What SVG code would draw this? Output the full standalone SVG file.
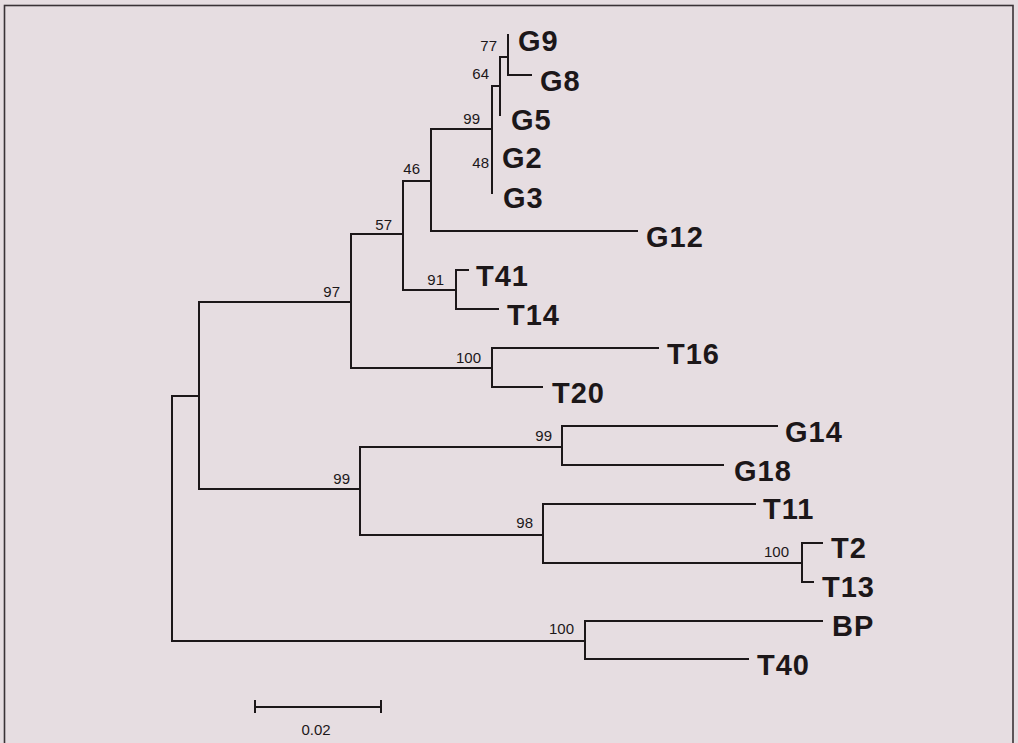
<svg xmlns="http://www.w3.org/2000/svg" width="1018" height="743" viewBox="0 0 1018 743">
<style>
.br{fill:none;stroke:#1c1719;stroke-width:2;stroke-linecap:square;stroke-linejoin:miter}
.leaf{font-family:"Liberation Sans",Arial,sans-serif;font-weight:bold;font-size:29px;letter-spacing:1px;fill:#1c1719}
.bs{font-family:"Liberation Sans",Arial,sans-serif;font-size:15px;fill:#1c1719;text-anchor:end}
.sc{font-family:"Liberation Sans",Arial,sans-serif;font-size:15px;fill:#1c1719;text-anchor:middle}
</style>
<rect x="0" y="0" width="1018" height="743" fill="#e6dde1"/>
<rect x="4.5" y="5.5" width="1008.5" height="760" fill="none" stroke="#3a3236" stroke-width="1.6"/>
<g id="connectors">
<path class="br" d="M199 396 H172 V641 H585"/>
<path class="br" d="M351 302 H199 V489 H360"/>
<path class="br" d="M403 234 H351 V368 H492"/>
<path class="br" d="M431 181 H403 V290 H456"/>
<path class="br" d="M492 129 H431 V231 H637"/>
<path class="br" d="M500 86 H492 V193"/>
<path class="br" d="M508 57 H500 V115"/>
<path class="br" d="M508 35 V75 H531"/>
<path class="br" d="M468 270 H456 V309 H498"/>
<path class="br" d="M658 348 H492 V387 H542"/>
<path class="br" d="M562 447 H360 V535 H543"/>
<path class="br" d="M777 426 H562 V465 H723"/>
<path class="br" d="M755 504 H543 V563 H802"/>
<path class="br" d="M822 543 H802 V582 H813"/>
<path class="br" d="M822 621 H585 V659 H748"/>
</g>
<g id="n77"><text class="bs" x="497" y="51">77</text></g>
<g id="n64"><text class="bs" x="489" y="79">64</text></g>
<g id="n99a"><text class="bs" x="480" y="124">99</text></g>
<g id="n48"><text class="bs" x="489" y="168">48</text></g>
<g id="n46"><text class="bs" x="420" y="174">46</text></g>
<g id="n57"><text class="bs" x="392" y="230">57</text></g>
<g id="n91"><text class="bs" x="444" y="285">91</text></g>
<g id="n97"><text class="bs" x="340" y="297">97</text></g>
<g id="n100a"><text class="bs" x="481" y="363">100</text></g>
<g id="n99b"><text class="bs" x="552" y="441">99</text></g>
<g id="n99c"><text class="bs" x="350" y="484">99</text></g>
<g id="n98"><text class="bs" x="533" y="528">98</text></g>
<g id="n100b"><text class="bs" x="789" y="557">100</text></g>
<g id="n100c"><text class="bs" x="574" y="634">100</text></g>
<g id="G9"><text class="leaf" x="518" y="51">G9</text></g>
<g id="G8"><text class="leaf" x="540" y="91">G8</text></g>
<g id="G5"><text class="leaf" x="511" y="130">G5</text></g>
<g id="G2"><text class="leaf" x="502" y="168">G2</text></g>
<g id="G3"><text class="leaf" x="503" y="208">G3</text></g>
<g id="G12"><text class="leaf" x="646" y="247">G12</text></g>
<g id="T41"><text class="leaf" x="476" y="286">T41</text></g>
<g id="T14"><text class="leaf" x="507" y="325">T14</text></g>
<g id="T16"><text class="leaf" x="667" y="364">T16</text></g>
<g id="T20"><text class="leaf" x="552" y="403">T20</text></g>
<g id="G14"><text class="leaf" x="785" y="442">G14</text></g>
<g id="G18"><text class="leaf" x="734" y="481">G18</text></g>
<g id="T11"><text class="leaf" x="763" y="519">T11</text></g>
<g id="T2"><text class="leaf" x="831" y="558">T2</text></g>
<g id="T13"><text class="leaf" x="822" y="597">T13</text></g>
<g id="BP"><text class="leaf" x="832" y="636">BP</text></g>
<g id="T40"><text class="leaf" x="757" y="675">T40</text></g>
<g id="scalebar">
<path class="br" stroke-width="1.6" d="M255 707 H381 M255 700 V713 M381 700 V713" style="stroke-linecap:butt"/>
<text class="sc" x="316" y="735">0.02</text>
</g>
</svg>
